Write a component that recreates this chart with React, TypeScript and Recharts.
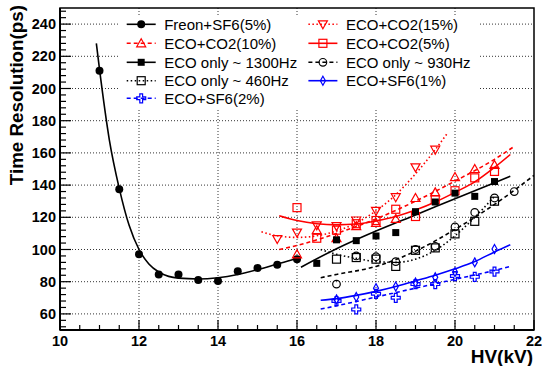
import React from "react";
import {
  ComposedChart,
  XAxis,
  YAxis,
  Line,
  Scatter,
  ReferenceLine,
  ReferenceArea,
  Legend,
} from "recharts";

type Pt = { x: number; y: number };
const toPts = (rows: number[][]): Pt[] => rows.map(([x, y]) => ({ x, y }));

// measured points (HV in kV, resolution in ps)
const freonPts = toPts([[11, 211], [11.5, 137.5], [12, 97], [12.5, 84.5], [13, 84.5], [13.5, 81], [14, 80.5], [14.5, 86.5], [15, 88.5], [15.5, 90.5], [16, 94]]);
const co2_15Pts = toPts([[15.5, 106.5], [16, 110.5], [16.5, 115], [17, 114.5], [17.5, 118], [18, 124], [18.5, 132.5], [19, 151], [19.5, 162]]);
const co2_10Pts = toPts([[16, 97], [16.5, 112], [17, 107], [17.5, 114.5], [18, 116.5], [18.5, 119], [19, 132], [19.5, 135.5], [20, 145], [20.5, 150], [21, 152.5]]);
const co2_5Pts = toPts([[16, 126], [16.5, 107], [17, 112], [17.5, 116], [18, 118], [18.5, 125], [19, 120.5], [19.5, 131], [20, 136.5], [20.5, 144.5], [21, 148.5]]);
const eco1300Pts = toPts([[16.5, 91.4], [17, 106], [17.5, 105.5], [18, 108.4], [18.5, 110.5], [19, 123.5], [19.5, 129.5], [20, 135], [20.5, 133], [21, 142.2]]);
const eco930Pts = toPts([[17, 78.5], [17.5, 96], [18, 95.5], [18.5, 92.5], [19, 100], [19.5, 102], [20, 114], [20.5, 123], [21, 132], [21.5, 136]]);
const eco460Pts = toPts([[17, 94], [17.5, 95], [18, 94], [18.5, 89.5], [19, 99.5], [19.5, 101], [20, 109.7], [20.5, 117.5], [21, 130]]);
const sf1Pts = toPts([[17, 69], [17.5, 70.5], [18, 76], [18.5, 77], [19, 79.5], [19.5, 82.7], [20, 86], [20.5, 92], [21, 100.3]]);
const sf2Pts = toPts([[17, 68], [17.5, 62.8], [18, 72.5], [18.5, 70], [19, 78.5], [19.5, 78.5], [20, 83.5], [20.5, 83], [21, 86.3]]);

// fit curves
const freonFit = toPts([[10.92, 228], [11, 212], [11.25, 168], [11.5, 138], [11.75, 115], [12, 100], [12.25, 91], [12.5, 86], [12.75, 83.3], [13, 82.2], [13.5, 81.7], [14, 82.5], [14.5, 84.5], [15, 87.5], [15.5, 91], [16, 94.5], [16.1, 95.3]]);
const co2_15Fit = toPts([[15.1, 111], [15.5, 108.5], [16, 107.5], [16.5, 108.5], [17, 111.5], [17.5, 116.5], [18, 124], [18.5, 134], [19, 147], [19.5, 162], [19.8, 172]]);
const co2_10Fit = toPts([[15.55, 100], [16, 102.5], [17, 110], [18, 119], [19, 130], [20, 142.5], [21, 156], [21.5, 164]]);
const co2_5Fit = toPts([[15.55, 121], [16, 118], [16.5, 116], [17, 115.3], [17.5, 115.8], [18, 117.8], [18.5, 120.5], [19, 124.5], [19.5, 129.5], [20, 135.5], [20.5, 142], [21, 151], [21.4, 159]]);
const eco1300Fit = toPts([[16.1, 89], [17, 100.5], [18, 111.5], [19, 121.5], [20, 131.5], [21, 141.5], [21.4, 145.5]]);
const eco930Fit = toPts([[16.6, 82.5], [17, 84.5], [18, 89.5], [19, 99], [20, 112.5], [21, 128], [22, 146]]);
const eco460Fit = toPts([[16.6, 100], [17, 97], [17.5, 94.5], [18, 92.5], [18.5, 92], [19, 94], [19.5, 99.5], [20, 108.5], [20.5, 120], [21, 133]]);
const sf1Fit = toPts([[16.6, 68.5], [17, 69.5], [17.5, 71.5], [18, 74], [18.5, 77], [19, 80.5], [19.5, 84], [20, 88], [20.5, 92.5], [21, 98.5], [21.4, 103]]);
const sf2Fit = toPts([[16.6, 63], [17, 65], [18, 70.5], [19, 76], [20, 81.5], [21, 87], [21.4, 89.5]]);

const xMajor = [10, 12, 14, 16, 18, 20, 22];
const yMajor = [60, 80, 100, 120, 140, 160, 180, 200, 220, 240];
const xTicks = Array.from({ length: 25 }, (_, i) => 10 + i * 0.5);
const yTicks = Array.from({ length: 50 }, (_, i) => 52 + i * 4);

const RED = "#ff0000";
const BLUE = "#0000ff";
const BLACK = "#000000";
const FONT = "'Liberation Sans', Arial, Helvetica, sans-serif";
const DASH = "4 3";
const DOT = "1.5 2.5";

type Kind = "dot" | "square" | "osquare" | "tri" | "itri" | "ocircle" | "diamond" | "cross";

function Mark({ cx, cy, kind, color }: { cx: number; cy: number; kind: Kind; color: string }) {
  const sw = 1.2;
  switch (kind) {
    case "dot":
      return <circle cx={cx} cy={cy} r={4} fill={color} />;
    case "square":
      return <rect x={cx - 3.5} y={cy - 3.5} width={7} height={7} fill={color} />;
    case "osquare":
      return <rect x={cx - 4} y={cy - 4} width={8} height={8} fill="none" stroke={color} strokeWidth={sw} />;
    case "tri":
      return <polygon points={`${cx},${cy - 4.5} ${cx + 4.5},${cy + 3.5} ${cx - 4.5},${cy + 3.5}`} fill="none" stroke={color} strokeWidth={sw} />;
    case "itri":
      return <polygon points={`${cx},${cy + 4.5} ${cx + 4.5},${cy - 3.5} ${cx - 4.5},${cy - 3.5}`} fill="none" stroke={color} strokeWidth={sw} />;
    case "ocircle":
      return <circle cx={cx} cy={cy} r={3.8} fill="none" stroke={color} strokeWidth={sw} />;
    case "diamond":
      return <polygon points={`${cx},${cy - 4.5} ${cx + 2.5},${cy} ${cx},${cy + 4.5} ${cx - 2.5},${cy}`} fill="none" stroke={color} strokeWidth={sw} />;
    case "cross": {
      const a = 1.4;
      const s = 4.5;
      const p = [[-a, -s], [a, -s], [a, -a], [s, -a], [s, a], [a, a], [a, s], [-a, s], [-a, a], [-s, a], [-s, -a], [-a, -a]];
      return <polygon points={p.map(([dx, dy]) => `${cx + dx},${cy + dy}`).join(" ")} fill="none" stroke={color} strokeWidth={sw} />;
    }
  }
  return null;
}

const XTick = (props: any) => {
  const { x, y, payload } = props;
  const v = payload.value;
  const major = xMajor.includes(v);
  return (
    <g>
      <line x1={x} x2={x} y1={y} y2={y - (major ? 10 : 5)} stroke={BLACK} strokeWidth={1.2} />
      {major && (
        <text x={x} y={y + 15.5} textAnchor="middle" fontSize={14.5} fontWeight="bold" fontFamily={FONT} fill={BLACK}>
          {v}
        </text>
      )}
    </g>
  );
};

const YTick = (props: any) => {
  const { x, y, payload } = props;
  const v = payload.value;
  const major = yMajor.includes(v);
  return (
    <g>
      <line x1={x} x2={x + (major ? 11 : 6)} y1={y} y2={y} stroke={BLACK} strokeWidth={1.2} />
      {major && (
        <text x={x - 4} y={y + 5} textAnchor="end" fontSize={14.5} fontWeight="bold" fontFamily={FONT} fill={BLACK}>
          {v}
        </text>
      )}
    </g>
  );
};

type Entry = { label: string; color: string; dash?: string; kind: Kind };
const legendLeft: Entry[] = [
  { label: "Freon+SF6(5%)", color: BLACK, kind: "dot" },
  { label: "ECO+CO2(10%)", color: RED, dash: DASH, kind: "tri" },
  { label: "ECO only ~ 1300Hz", color: BLACK, kind: "square" },
  { label: "ECO only ~ 460Hz", color: BLACK, dash: DOT, kind: "osquare" },
  { label: "ECO+SF6(2%)", color: BLUE, dash: DASH, kind: "cross" },
];
const legendRight: Entry[] = [
  { label: "ECO+CO2(15%)", color: RED, dash: DOT, kind: "itri" },
  { label: "ECO+CO2(5%)", color: RED, kind: "osquare" },
  { label: "ECO only ~ 930Hz", color: BLACK, dash: DASH, kind: "ocircle" },
  { label: "ECO+SF6(1%)", color: BLUE, kind: "diamond" },
];

function LegendBox() {
  const rows = [9.3, 28.3, 47.3, 65.7, 83.3];
  const col = (items: Entry[], x0: number) =>
    items.map((e, i) => (
      <g key={e.label}>
        <line x1={x0} x2={x0 + 29} y1={rows[i]} y2={rows[i]} stroke={e.color} strokeWidth={1.6} strokeDasharray={e.dash} />
        <Mark cx={x0 + 14.5} cy={rows[i]} kind={e.kind} color={e.color} />
        <text x={x0 + 37.5} y={rows[i] + 5.2} fontSize={15} fontFamily={FONT} fill={BLACK}>
          {e.label}
        </text>
      </g>
    ));
  return (
    <svg width={359} height={95} style={{ display: "block", background: "#fff" }}>
      {col(legendLeft, 7.7)}
      {col(legendRight, 189.4)}
    </svg>
  );
}

const series: { pts: Pt[]; fit: Pt[]; color: string; dash?: string; kind: Kind; name: string }[] = [
  { name: "freon", pts: freonPts, fit: freonFit, color: BLACK, kind: "dot" },
  { name: "co2_15", pts: co2_15Pts, fit: co2_15Fit, color: RED, dash: DOT, kind: "itri" },
  { name: "co2_10", pts: co2_10Pts, fit: co2_10Fit, color: RED, dash: DASH, kind: "tri" },
  { name: "co2_5", pts: co2_5Pts, fit: co2_5Fit, color: RED, kind: "osquare" },
  { name: "eco1300", pts: eco1300Pts, fit: eco1300Fit, color: BLACK, kind: "square" },
  { name: "eco930", pts: eco930Pts, fit: eco930Fit, color: BLACK, dash: DASH, kind: "ocircle" },
  { name: "eco460", pts: eco460Pts, fit: eco460Fit, color: BLACK, dash: DOT, kind: "osquare" },
  { name: "sf1", pts: sf1Pts, fit: sf1Fit, color: BLUE, kind: "diamond" },
  { name: "sf2", pts: sf2Pts, fit: sf2Fit, color: BLUE, dash: DASH, kind: "cross" },
];

export default function App() {
  return (
    <div style={{ position: "absolute", left: 0, top: 0, width: 542, height: 366, background: "#fff", fontFamily: FONT }}>
      <ComposedChart width={542} height={366} margin={{ top: 8, right: 8, bottom: 0, left: 0 }}>
        <XAxis
          type="number"
          dataKey="x"
          domain={[10, 22]}
          ticks={xTicks}
          interval={0}
          tickLine={false}
          tickSize={0}
          tickMargin={0}
          height={36}
          allowDataOverflow
          axisLine={{ stroke: BLACK, strokeWidth: 2 }}
          tick={XTick}
          label={() => (
            <text x={533} y={363} textAnchor="end" fontSize={19} fontWeight="bold" fontFamily={FONT} fill={BLACK}>
              HV(kV)
            </text>
          )}
        />
        <YAxis
          type="number"
          dataKey="y"
          domain={[50, 250]}
          ticks={yTicks}
          interval={0}
          tickLine={false}
          tickSize={0}
          tickMargin={0}
          width={60}
          allowDataOverflow
          axisLine={{ stroke: BLACK, strokeWidth: 2 }}
          tick={YTick}
          label={() => (
            <text x={22.5} y={5} transform="rotate(-90 22.5 5)" textAnchor="end" fontSize={18.8} fontWeight="bold" fontFamily={FONT} fill={BLACK}>
              Time Resolution(ps)
            </text>
          )}
        />
        {xMajor.slice(1, -1).map((v) => (
          <ReferenceLine key={`gx${v}`} x={v} stroke={BLACK} strokeWidth={0.8} strokeDasharray="1 2" />
        ))}
        {yMajor.map((v) => (
          <ReferenceLine key={`gy${v}`} y={v} stroke={BLACK} strokeWidth={0.8} strokeDasharray="1 2" />
        ))}
        <ReferenceArea x1={10} x2={22} y1={50} y2={250} fill="none" stroke={BLACK} strokeWidth={1.5} />
        {series.map((s) => (
          <Line
            key={`fit-${s.name}`}
            data={s.fit}
            dataKey="y"
            type="monotone"
            stroke={s.color}
            strokeWidth={1.6}
            strokeDasharray={s.dash}
            dot={false}
            activeDot={false}
            legendType="none"
            isAnimationActive={false}
          />
        ))}
        {series.map((s) => (
          <Scatter
            key={`pts-${s.name}`}
            data={s.pts}
            dataKey="y"
            legendType="none"
            isAnimationActive={false}
            shape={(p: any) => <Mark cx={p.cx} cy={p.cy} kind={s.kind} color={s.color} />}
          />
        ))}
        <Legend
          layout="horizontal"
          verticalAlign="middle"
          align="center"
          wrapperStyle={{ left: 119, top: 15, width: 359, height: 95 }}
          content={() => <LegendBox />}
        />
      </ComposedChart>
    </div>
  );
}
